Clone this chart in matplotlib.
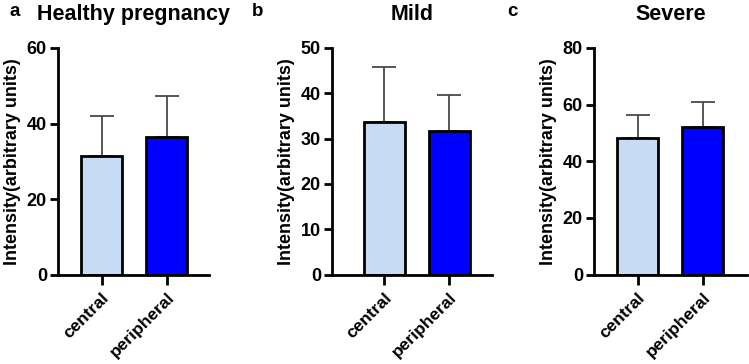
import matplotlib
matplotlib.use("Agg")
import matplotlib.pyplot as plt

plt.rcParams['font.family'] = ['Liberation Sans', 'DejaVu Sans']
plt.rcParams['font.weight'] = 'bold'

categories = ["central", "peripheral"]
titles = ["Healthy pregnancy", "Mild", "Severe"]
letters = ["a", "b", "c"]
means_healthy = [31.5, 36.4]
sd_healthy = [10.6, 11.0]
means_mild = [33.7, 31.6]
sd_mild = [12.1, 8.0]
means_severe = [48.3, 52.1]
sd_severe = [7.9, 8.8]
ylims = [60, 50, 80]
yticks = [[0, 20, 40, 60], [0, 10, 20, 30, 40, 50], [0, 20, 40, 60, 80]]
ylabel = "Intensity(arbitrary units)"

colors = ["#C6DCF4", "#0000FF"]

W, H = 749, 364
fig = plt.figure(figsize=(W/100, H/100), dpi=100)

boxes = [(58, 209, -0.67, 1.65), (332, 492, -0.80, 1.66), (594, 747, -0.67, 1.68)]
data = [(means_healthy, sd_healthy), (means_mild, sd_mild), (means_severe, sd_severe)]
top_px, bot_px = 48, 274.5

for i, ((l, r, xmin, xmax), (m, s)) in enumerate(zip(boxes, data)):
    ax = fig.add_axes([l/W, 1-bot_px/H, (r-l)/W, (bot_px-top_px)/H])
    x = [0, 1]
    ax.errorbar(x, m, yerr=[[0, 0], s], fmt='none', ecolor='#4a4a4a',
                elinewidth=1.3, capsize=8.5, capthick=1.3, zorder=1)
    ax.bar(x, m, width=0.63, color=colors, edgecolor='black', linewidth=2.0, zorder=2)
    ax.set_xlim(xmin, xmax)
    ax.set_ylim(0, ylims[i])
    ax.set_yticks(yticks[i])
    ax.set_xticks(x)
    ax.set_xticklabels(categories, rotation=45, ha='right', rotation_mode='anchor',
                       fontsize=12.5, fontweight='bold')
    ax.tick_params(axis='y', labelsize=13, width=2.0, length=6, pad=2)
    ax.tick_params(axis='x', width=2.0, length=7, pad=4)
    for lab in ax.get_yticklabels():
        lab.set_fontweight('bold')
    for sp in ['top', 'right']:
        ax.spines[sp].set_visible(False)
    for sp in ['left', 'bottom']:
        ax.spines[sp].set_linewidth(2.0)
    ax.set_ylabel(ylabel, fontsize=13, fontweight='bold', labelpad=4)
    ax.set_title(titles[i], fontsize=15.5, fontweight='bold', pad=20)

letter_pos = [(15, 11), (258, 11), (512, 11)]
for (px, py), t in zip(letter_pos, letters):
    fig.text(px/W, 1-py/H, t, fontsize=13.5, fontweight='bold', ha='center', va='center')

fig.savefig("out.png", dpi=100)
